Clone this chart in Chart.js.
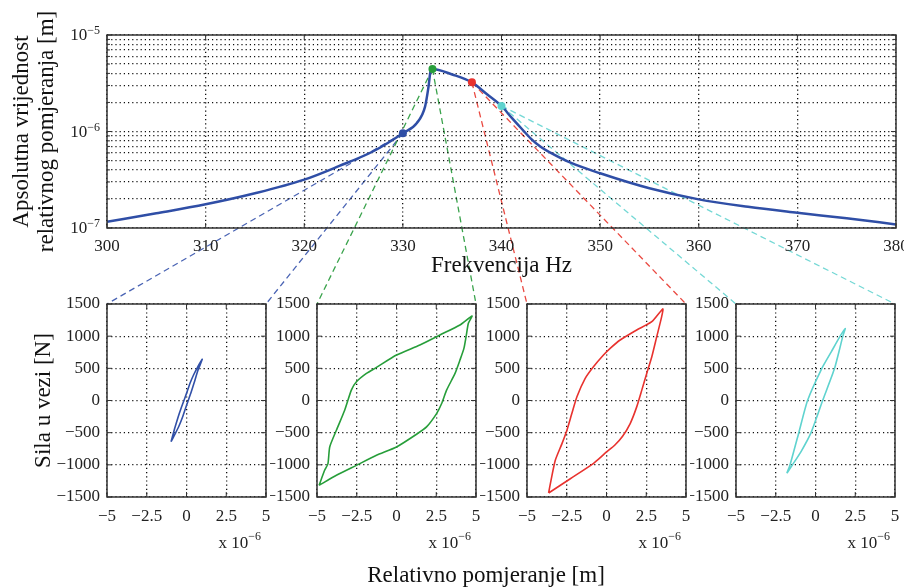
<!DOCTYPE html>
<html>
<head>
<meta charset="utf-8">
<title>Frekvencijski odziv i petlje histereze</title>
<script src="https://cdn.jsdelivr.net/npm/chart.js@4.4.1/dist/chart.umd.min.js"></script>
<style>
  html, body { margin: 0; padding: 0; background: #fff; }
  #wrap { position: relative; width: 904px; height: 587px; overflow: hidden; background: #fff; }
  #wrap canvas { position: absolute; }
  #xlabel { position: absolute; left: 286px; width: 400px; top: 561px; text-align: center;
            font: 23px "Liberation Serif", "Times New Roman", serif; color: #111; line-height: 28px; }
</style>
</head>
<body>
<div id="wrap">
  <canvas id="links" width="904" height="587" style="left:0;top:0"></canvas>
  <canvas id="topChart" width="904" height="290" style="left:0;top:0"></canvas>
  <canvas id="loop1" width="270" height="297" style="left:0;top:290px"></canvas>
  <canvas id="loop2" width="210" height="297" style="left:270px;top:290px"></canvas>
  <canvas id="loop3" width="210" height="297" style="left:480px;top:290px"></canvas>
  <canvas id="loop4" width="214" height="297" style="left:690px;top:290px"></canvas>
  <div id="xlabel">Relativno pomjeranje [m]</div>
</div>
<script>
// frekvencijski odziv (gornji graf)
const freqHz = [300, 305, 310, 315, 320, 323.5, 327, 330, 331.4, 332.25, 332.6, 332.83, 333,
                335, 337, 338.5, 340, 341, 342, 343, 344, 345, 347, 350, 355, 360, 365, 370, 375, 380];
const amplitudeM = [1.16e-7, 1.42e-7, 1.76e-7, 2.29e-7, 3.17e-7, 4.37e-7, 6.24e-7, 9.6e-7,
                    1.22e-6, 1.81e-6, 2.91e-6, 4.34e-6, 4.45e-6,
                    3.9e-6, 3.23e-6, 2.45e-6, 1.84e-6, 1.4e-6, 1.08e-6, 8.4e-7, 6.9e-7, 6.0e-7, 4.75e-7,
                    3.69e-7, 2.58e-7, 1.98e-7, 1.66e-7, 1.44e-7, 1.26e-7, 1.09e-7];

// odabrane tacke (markeri)
const markerHz = [330, 333, 337, 340];
const markerAmp = [9.6e-7, 4.45e-6, 3.23e-6, 1.84e-6];
const markerColors = ['#2f4ea6', '#279e3a', '#e8322e', '#5fd3cf'];
const linkColors = ['#4a64b4', '#3aa34c', '#ea4a42', '#74d8d5'];

// petlje histereze, x u 1e-6 m, y u N
const blueLoopX = [-0.97, -0.75, -0.52, -0.34, -0.16, 0.03, 0.22, 0.45, 0.70, 0.99,
                   0.72, 0.47, 0.29, 0.11, -0.06, -0.24, -0.48, -0.72, -0.97];
const blueLoopY = [-640, -440, -252, -120, 0, 130, 267, 400, 520, 640,
                   470, 267, 130, 0, -120, -252, -400, -520, -640];

const greenLoopX = [-4.87, -4.52, -4.31, -4.2, -3.78, -3.26, -2.84, -2.52, -1.89, -1.26, 0, 1.47, 2.73, 3.99, 4.75,
                    4.52, 4.41, 4.24, 3.99, 3.68, 3.15, 2.84, 2.52, 1.89, 1.26, 0, -1.26, -2.52, -3.78, -4.87];
const greenLoopY = [-1319, -1085, -981, -722, -462, -151, 161, 291, 421, 514, 706, 862, 1018, 1174, 1314,
                    1200, 1044, 810, 628, 421, 161, -47, -203, -410, -524, -722, -852, -1008, -1163, -1319];

const redLoopX = [-3.64, -3.49, -3.22, -2.8, -2.49, -2.18, -1.86, -1.34, -0.82, -0.19, 0.23, 0.86, 1.9, 2.85, 3.54,
                  3.47, 3.16, 2.85, 2.53, 2.22, 1.9, 1.49, 1.0, 0.5, 0.0, -0.5, -0.95, -2.3, -3.64];
const redLoopY = [-1438, -1241, -929, -670, -462, -203, 57, 343, 524, 706, 810, 940, 1096, 1225, 1423,
                  1303, 992, 680, 421, 161, -99, -358, -560, -700, -800, -910, -1000, -1220, -1438];

const cyanLoopX = [-1.8, -1.6, -1.05, -0.5, 0.4, 1.0, 1.55, 1.87,
                   1.72, 1.2, 0.45, -0.28, -0.9, -1.45, -1.8];
const cyanLoopY = [-1130, -1000, -500, 0, 500, 760, 1000, 1120,
                   1000, 500, 0, -500, -790, -1000, -1130];

const yDecadeExponents = [-7, -6, -5];
const freqTicks = { min: 300, max: 380, step: 10 };
const dispTicks = { min: -5, max: 5, step: 2.5 };
const forceTicks = { min: -1500, max: 1500, step: 500 };

Chart.defaults.font.family = '"Liberation Serif", "Times New Roman", serif';
Chart.defaults.font.size = 17;
Chart.defaults.color = '#222';
Chart.defaults.animation = false;
Chart.defaults.plugins.legend.display = false;
Chart.defaults.plugins.tooltip.enabled = false;

const serif = '"Liberation Serif", "Times New Roman", serif';
const gridDots = { color: '#111', lineWidth: 1.3, drawTicks: false };
const dotted = { display: false, dash: [1.2, 3] };
const minus = v => (v < 0 ? '\u2212' : '') + Math.abs(v);

// okvir oko grafika + kratke crtice s unutrasnje strane
const framePlugin = {
  id: 'frame',
  afterDraw(chart) {
    const { ctx, chartArea: a, scales } = chart;
    ctx.save();
    ctx.strokeStyle = '#333';
    ctx.setLineDash([]);
    ctx.lineWidth = 1;
    ctx.beginPath();
    scales.x.ticks.forEach(t => {
      const px = scales.x.getPixelForValue(t.value);
      ctx.moveTo(px, a.bottom); ctx.lineTo(px, a.bottom - 5);
      ctx.moveTo(px, a.top); ctx.lineTo(px, a.top + 5);
    });
    scales.y.ticks.forEach(t => {
      const py = scales.y.getPixelForValue(t.value);
      const len = scales.y.type === 'logarithmic' && !yDecadeExponents.some(e => Math.abs(Math.pow(10, e) - t.value) < 1e-12) ? 3 : 5;
      ctx.moveTo(a.left, py); ctx.lineTo(a.left + len, py);
      ctx.moveTo(a.right, py); ctx.lineTo(a.right - len, py);
    });
    ctx.stroke();
    ctx.lineWidth = 1.5;
    ctx.strokeRect(a.left, a.top, a.right - a.left, a.bottom - a.top);
    ctx.restore();
  }
};

// oznake 10^n na log osi
const powerLabels = {
  id: 'powerLabels',
  afterDraw(chart) {
    const ctx = chart.ctx;
    const ys = chart.scales.y;
    const right = chart.chartArea.left - 7;
    ctx.save();
    ctx.fillStyle = '#222';
    ctx.textAlign = 'right';
    yDecadeExponents.forEach(e => {
      const py = ys.getPixelForValue(Math.pow(10, e));
      const exp = minus(e);
      ctx.font = '12px ' + serif;
      const ew = ctx.measureText(exp).width;
      ctx.textBaseline = 'alphabetic';
      ctx.fillText(exp, right, py - 1);
      ctx.font = '17px ' + serif;
      ctx.textBaseline = 'middle';
      ctx.fillText('10', right - ew, py + 1);
    });
    ctx.restore();
  }
};

// "x 10^-6" ispod svakog donjeg grafika
const scaleNote = {
  id: 'scaleNote',
  afterDraw(chart) {
    const ctx = chart.ctx;
    const a = chart.chartArea;
    const right = a.right - 5;
    ctx.save();
    ctx.fillStyle = '#222';
    ctx.textAlign = 'right';
    ctx.textBaseline = 'alphabetic';
    ctx.font = '12px ' + serif;
    const exp = '\u22126';
    const ew = ctx.measureText(exp).width;
    ctx.fillText(exp, right, a.bottom + 43);
    ctx.font = '17px ' + serif;
    ctx.fillText('x 10', right - ew, a.bottom + 51);
    ctx.restore();
  }
};

const logGrid = [];
yDecadeExponents.forEach((e, i) => {
  if (i === yDecadeExponents.length - 1) { logGrid.push(Math.pow(10, e)); return; }
  for (let m = 1; m <= 9; m++) logGrid.push(Number((m * Math.pow(10, e)).toPrecision(3)));
});

const topChart = new Chart(document.getElementById('topChart'), {
  type: 'line',
  data: {
    datasets: [
      {
        data: markerHz.map((f, i) => ({ x: f, y: markerAmp[i] })),
        showLine: false,
        pointRadius: 4,
        pointBackgroundColor: markerColors,
        pointBorderColor: markerColors,
        pointBorderWidth: 0
      },
      {
        data: freqHz.map((f, i) => ({ x: f, y: amplitudeM[i] })),
        borderColor: '#2f4ea6',
        borderWidth: 2.5,
        pointRadius: 0,
        cubicInterpolationMode: 'monotone'
      }
    ]
  },
  options: {
    responsive: false,
    layout: { padding: { left: 0, right: 8, top: 35, bottom: 0 } },
    scales: {
      x: {
        type: 'linear', min: freqTicks.min, max: freqTicks.max,
        ticks: { stepSize: freqTicks.step, padding: 8 },
        grid: gridDots, border: dotted,
        title: { display: true, text: 'Frekvencija Hz', color: '#111', font: { size: 23 }, padding: { top: 0, bottom: 10 } },
        afterFit(s) { s.height = 62; s.paddingLeft = 0; s.paddingRight = 0; }
      },
      y: {
        type: 'logarithmic', min: 1e-7, max: 1e-5,
        ticks: { display: false },
        afterBuildTicks(s) { s.ticks = logGrid.map(v => ({ value: v })); },
        grid: gridDots, border: dotted,
        title: {
          display: true, text: ['Apsolutna vrijednost', 'relativnog pomjeranja [m]'], color: '#111',
          font: { size: 23, lineHeight: 1.1 }, padding: { top: 9, bottom: 0 }
        },
        afterFit(s) { s.width = 107; s.paddingTop = 0; s.paddingBottom = 0; }
      }
    }
  },
  plugins: [framePlugin, powerLabels]
});

function loopChart(id, xs, ys, color, axisWidth, padRight, withTitle) {
  return new Chart(document.getElementById(id), {
    type: 'scatter',
    data: {
      datasets: [{
        data: xs.map((x, i) => ({ x: x, y: ys[i] })),
        showLine: true,
        borderColor: color,
        borderWidth: 1.6,
        pointRadius: 0,
        tension: 0.2
      }]
    },
    options: {
      responsive: false,
      layout: { padding: { left: 0, right: padRight, top: 14, bottom: 0 } },
      scales: {
        x: {
          type: 'linear', min: dispTicks.min, max: dispTicks.max,
          ticks: { stepSize: dispTicks.step, padding: 9, callback: v => minus(v) },
          grid: gridDots, border: dotted,
          afterFit(s) { s.height = 90; s.paddingLeft = 0; s.paddingRight = 0; }
        },
        y: {
          type: 'linear', min: forceTicks.min, max: forceTicks.max,
          ticks: { stepSize: forceTicks.step, padding: 7, callback: v => minus(v) },
          grid: gridDots, border: dotted,
          title: { display: withTitle, text: 'Sila u vezi [N]', color: '#111', font: { size: 23 }, padding: { top: 30, bottom: 0 } },
          afterFit(s) { s.width = axisWidth; s.paddingTop = 0; s.paddingBottom = 0; }
        }
      }
    },
    plugins: [framePlugin, scaleNote]
  });
}

const panelLeft = [0, 270, 480, 690];
const loopCharts = [
  loopChart('loop1', blueLoopX, blueLoopY, '#3150a8', 107, 4, true),
  loopChart('loop2', greenLoopX, greenLoopY, '#279e3a', 47, 4, false),
  loopChart('loop3', redLoopX, redLoopY, '#e8322e', 47, 4, false),
  loopChart('loop4', cyanLoopX, cyanLoopY, '#5fd3cf', 46, 9, false)
];

// isprekidane linije od markera do donjih grafika
const linkCtx = document.getElementById('links').getContext('2d');
linkCtx.setLineDash([6, 4]);
linkCtx.lineWidth = 1.3;
loopCharts.forEach((ch, i) => {
  const mx = topChart.scales.x.getPixelForValue(markerHz[i]);
  const my = topChart.scales.y.getPixelForValue(markerAmp[i]);
  const a = ch.chartArea;
  linkCtx.strokeStyle = linkColors[i];
  [a.left, a.right].forEach(cx => {
    linkCtx.beginPath();
    linkCtx.moveTo(mx, my);
    linkCtx.lineTo(panelLeft[i] + cx, 290 + a.top);
    linkCtx.stroke();
  });
});
</script>
</body>
</html>
